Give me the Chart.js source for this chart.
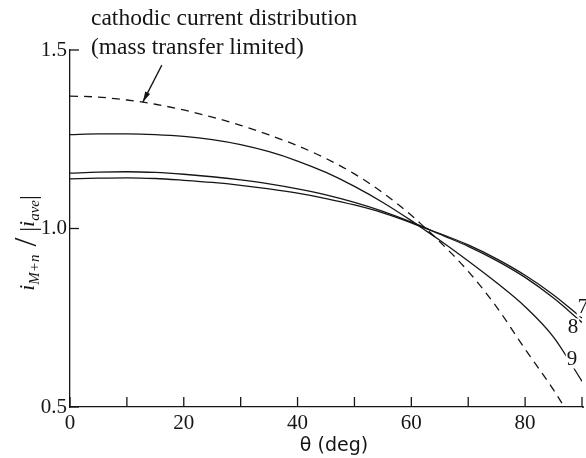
<!DOCTYPE html>
<html>
<head>
<meta charset="utf-8">
<script src="https://cdn.jsdelivr.net/npm/chart.js@4/dist/chart.umd.min.js"></script>
<style>
  html, body { margin: 0; padding: 0; background: #ffffff; }
  #wrap { width: 586px; height: 458px; position: relative; }
</style>
</head>
<body>
<div id="wrap"><canvas id="c" width="586" height="458"></canvas></div>
<script>
// ---- data ----
const thetaSolid = [0, 5, 10, 15, 20, 25, 30, 35, 40, 45, 50, 55, 60, 62, 65, 70, 75, 80, 85, 90];
const curve7 = [1.139, 1.141, 1.142, 1.140, 1.135, 1.129, 1.121, 1.111, 1.099, 1.084, 1.066, 1.044, 1.016, 1.003, 0.986, 0.954, 0.915, 0.869, 0.814, 0.749];
const curve8 = [1.155, 1.158, 1.159, 1.157, 1.152, 1.145, 1.136, 1.125, 1.111, 1.094, 1.073, 1.048, 1.018, 1.005, 0.984, 0.950, 0.910, 0.863, 0.805, 0.737];
const curve9 = [1.263, 1.265, 1.265, 1.263, 1.258, 1.249, 1.235, 1.215, 1.189, 1.157, 1.118, 1.073, 1.022, 1.000, 0.967, 0.909, 0.848, 0.781, 0.696, 0.572];
const thetaCathodic = [0, 5, 10, 15, 20, 25, 30, 35, 40, 45, 50, 55, 60, 62, 65, 70, 75, 80, 85, 87];
const cathodic = [1.371, 1.368, 1.360, 1.348, 1.332, 1.312, 1.289, 1.262, 1.232, 1.196, 1.153, 1.100, 1.037, 1.008, 0.963, 0.880, 0.780, 0.662, 0.548, 0.497];
const xTicks = [0, 10, 20, 30, 40, 50, 60, 70, 80, 90];
const yTicks = [0.5, 1.0, 1.5];
const curveLabels = ['7', '8', '9'];
const titleLines = ['cathodic current distribution', '(mass transfer limited)'];
const xTitle = '\u03b8 (deg)';

function pts(xs, ys) { return xs.map((x, i) => ({ x: x, y: ys[i] })); }

const INK = '#151515';
const SERIF = '"Liberation Serif", "DejaVu Serif", serif';

const decor = {
  id: 'decor',
  afterDraw(chart) {
    const ctx = chart.ctx;
    const xs = chart.scales.x, ys = chart.scales.y;
    const area = chart.chartArea;
    ctx.save();
    ctx.strokeStyle = INK;
    ctx.fillStyle = INK;
    ctx.lineWidth = 1.3;
    // extend bottom axis slightly like the original
    ctx.beginPath(); ctx.moveTo(area.right, area.bottom); ctx.lineTo(area.right + 2, area.bottom); ctx.stroke();
    // inward ticks
    xTicks.forEach(v => {
      const px = xs.getPixelForValue(v);
      ctx.beginPath(); ctx.moveTo(px, area.bottom); ctx.lineTo(px, area.bottom - 10); ctx.stroke();
    });
    yTicks.forEach(v => {
      const py = ys.getPixelForValue(v);
      ctx.beginPath(); ctx.moveTo(area.left, py); ctx.lineTo(area.left + 9, py); ctx.stroke();
    });
    // title lines
    ctx.font = '23.5px ' + SERIF;
    ctx.textAlign = 'left';
    ctx.textBaseline = 'middle';
    ctx.fillText(titleLines[0], 91, 19);
    ctx.fillText(titleLines[1], 91, 48);
    // arrow pointing at the dashed curve
    const tipX = xs.getPixelForValue(12.8), tipY = ys.getPixelForValue(1.354);
    const sx = tipX + 19, sy = tipY - 37;
    ctx.beginPath(); ctx.moveTo(sx, sy); ctx.lineTo(tipX, tipY); ctx.stroke();
    const ang = Math.atan2(tipY - sy, tipX - sx);
    ctx.beginPath();
    ctx.moveTo(tipX, tipY);
    ctx.lineTo(tipX - 11 * Math.cos(ang - 0.25), tipY - 11 * Math.sin(ang - 0.25));
    ctx.lineTo(tipX - 11 * Math.cos(ang + 0.25), tipY - 11 * Math.sin(ang + 0.25));
    ctx.closePath(); ctx.fill();
    // curve labels 7, 8, 9
    ctx.font = '21px ' + SERIF;
    ctx.textAlign = 'center';
    ctx.textBaseline = 'middle';
    const labPos = [
      [xs.getPixelForValue(90) + 1, ys.getPixelForValue(0.779)],
      [xs.getPixelForValue(90) - 9, ys.getPixelForValue(0.723)],
      [xs.getPixelForValue(90) - 10, ys.getPixelForValue(0.633)]
    ];
    labPos.forEach((p, i) => {
      const w = ctx.measureText(curveLabels[i]).width;
      ctx.fillStyle = '#ffffff';
      ctx.fillRect(p[0] - w / 2 - 1, p[1] - 9, w + 2, 18);
      ctx.fillStyle = INK;
      ctx.fillText(curveLabels[i], p[0], p[1]);
    });
    // x axis title
    ctx.font = '19px "DejaVu Sans", sans-serif';
    ctx.textAlign = 'center';
    ctx.textBaseline = 'middle';
    ctx.fillText(xTitle, 334, 446);
    // y axis title (rotated, with subscripts)
    ctx.translate(29, 243);
    ctx.rotate(-Math.PI / 2);
    ctx.textBaseline = 'alphabetic';
    ctx.textAlign = 'left';
    const parts = [
      ['i', 'italic 22px ' + SERIF, 5],
      ['M+n', 'italic 15px ' + SERIF, 10],
      [' /', '32px ' + SERIF, 7],
      [' |', '24px ' + SERIF, 7],
      ['i', 'italic 22px ' + SERIF, 5],
      ['ave', 'italic 15px ' + SERIF, 10],
      ['|', '24px ' + SERIF, 7]
    ];
    let total = 0;
    parts.forEach(p => { ctx.font = p[1]; total += ctx.measureText(p[0]).width; });
    let cx = -total / 2;
    parts.forEach(p => {
      ctx.font = p[1];
      ctx.fillText(p[0], cx, p[2]);
      cx += ctx.measureText(p[0]).width;
    });
    ctx.restore();
  }
};

const lineStyle = { borderColor: INK, borderWidth: 1.3, pointRadius: 0, fill: false, showLine: true, cubicInterpolationMode: 'monotone' };

new Chart(document.getElementById('c'), {
  type: 'scatter',
  data: {
    datasets: [
      Object.assign({ label: 'cathodic', data: pts(thetaCathodic, cathodic), borderDash: [8, 6] }, lineStyle),
      Object.assign({ label: '9', data: pts(thetaSolid, curve9) }, lineStyle),
      Object.assign({ label: '8', data: pts(thetaSolid, curve8) }, lineStyle),
      Object.assign({ label: '7', data: pts(thetaSolid, curve7) }, lineStyle)
    ]
  },
  options: {
    responsive: false,
    animation: false,
    devicePixelRatio: 1,
    layout: { padding: { left: 0, top: 50, right: 4, bottom: 0 } },
    plugins: { legend: { display: false }, tooltip: { enabled: false } },
    scales: {
      x: {
        type: 'linear', min: 0, max: 90,
        afterFit(s) { s.height = 51; },
        grid: { drawOnChartArea: false, drawTicks: false },
        border: { display: true, color: INK, width: 1.3 },
        ticks: {
          stepSize: 10, padding: 4, color: INK, autoSkip: false, maxRotation: 0,
          font: { family: SERIF, size: 21 },
          callback: v => (v % 20 === 0 && v <= 80) ? String(v) : ''
        }
      },
      y: {
        type: 'linear', min: 0.5, max: 1.5,
        afterFit(s) { s.width = 70; },
        grid: { drawOnChartArea: false, drawTicks: false },
        border: { display: true, color: INK, width: 1.3 },
        ticks: {
          stepSize: 0.5, padding: 3, color: INK,
          font: { family: SERIF, size: 21 },
          callback: v => Number(v).toFixed(1)
        }
      }
    }
  },
  plugins: [decor]
});
</script>
</body>
</html>
